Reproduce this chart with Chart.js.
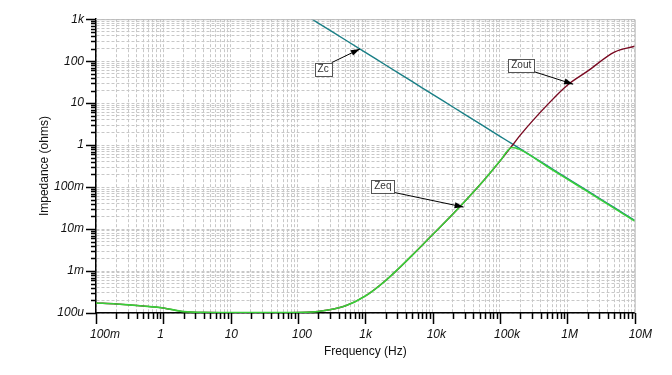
<!DOCTYPE html>
<html>
<head>
<meta charset="utf-8">
<title>Impedance vs Frequency</title>
<script src="https://cdn.jsdelivr.net/npm/chart.js@4.4.1/dist/chart.umd.min.js"></script>
<style>
  html, body { margin: 0; padding: 0; background: #fff; }
  #wrap { width: 672px; height: 375px; }
</style>
</head>
<body>
<div id="wrap"><canvas id="chart" width="672" height="375"></canvas></div>
<script>
// frequency points (Hz)
const freqs = [0.1, 0.2, 0.5, 1, 2, 5, 10, 20, 50, 100, 200, 500,
               1e3, 2e3, 5e3, 1e4, 2e4, 5e4, 1e5, 1.5e5, 2e5, 5e5, 1e6, 2e6, 5e6, 1e7];

// impedances (ohms)
const zc   = [1.62e6, 8.1e5, 3.24e5, 1.62e5, 8.1e4, 3.24e4, 1.62e4, 8100, 3240, 1620, 810, 324,
              162, 81, 32.4, 16.2, 8.1, 3.24, 1.62, 1.08, 0.81, 0.324, 0.162, 0.081, 0.0324, 0.0162];
const zeq  = [1.73e-4, 1.64e-4, 1.47e-4, 1.32e-4, 1.08e-4, 1.03e-4, 1.02e-4, 1.02e-4, 1.02e-4, 1.03e-4, 1.09e-4, 1.47e-4,
              2.54e-4, 5.94e-4, 2.4e-3, 7.4e-3, 2.28e-2, 0.112, 0.416, 0.88, 0.78, 0.31, 0.155, 0.078, 0.031, 0.0155];
const zout = [1.73e-4, 1.64e-4, 1.47e-4, 1.32e-4, 1.08e-4, 1.03e-4, 1.02e-4, 1.02e-4, 1.02e-4, 1.03e-4, 1.09e-4, 1.47e-4,
              2.54e-4, 5.94e-4, 2.4e-3, 7.4e-3, 2.28e-2, 0.112, 0.416, 0.95, 1.73, 8.97, 26.8, 57.8, 164, 227];

// axis decades and their labels
const xDecades = [0.1, 1, 10, 100, 1e3, 1e4, 1e5, 1e6, 1e7];
const xTickLabels = ['100m', '1', '10', '100', '1k', '10k', '100k', '1M', '10M'];
const yDecades = [1e-4, 1e-3, 1e-2, 0.1, 1, 10, 100, 1e3];
const yTickLabels = ['100u', '1m', '10m', '100m', '1', '10', '100', '1k'];

// callout labels: box centre and arrow tip, in data units
const callouts = [
  { text: 'Zc',   box: [236, 64.6],    tip: [830, 195] },
  { text: 'Zout', box: [2.07e5, 80],   tip: [1.22e6, 28.3] },
  { text: 'Zeq',  box: [1820, 0.106],  tip: [2.88e4, 0.0334] }
];

const FONT = "'Liberation Sans', Arial, sans-serif";

function decadeIndex(list, v) {
  return list.findIndex(d => Math.abs(d - v) / d < 1e-9);
}

function fullTicks(list) {
  const ticks = [];
  list.forEach((d, i) => {
    for (let k = 1; k <= 9; k++) {
      if (i === list.length - 1 && k > 1) break;
      ticks.push({ value: d * k });
    }
  });
  return ticks;
}

function series(values) {
  return freqs.map((f, i) => ({ x: f, y: values[i] }));
}

// ticks, frame and callouts drawn on top
const decorations = {
  id: 'decorations',
  afterDraw(chart) {
    const { ctx, chartArea: a, scales: { x, y } } = chart;
    ctx.save();

    // light frame on top and right
    ctx.strokeStyle = '#b8b8b8';
    ctx.lineWidth = 1;
    ctx.beginPath();
    ctx.moveTo(a.left, a.top + 0.5);
    ctx.lineTo(a.right + 0.5, a.top + 0.5);
    ctx.lineTo(a.right + 0.5, a.bottom);
    ctx.stroke();

    // tick marks
    ctx.strokeStyle = '#000';
    ctx.lineWidth = 1.5;
    ctx.beginPath();
    x.ticks.forEach(t => {
      const px = Math.round(x.getPixelForValue(t.value)) + 0.5;
      const len = decadeIndex(xDecades, t.value) >= 0 ? 11 : 6;
      ctx.moveTo(px, a.bottom);
      ctx.lineTo(px, a.bottom + len);
    });
    y.ticks.forEach(t => {
      const py = Math.round(y.getPixelForValue(t.value)) + 0.5;
      const len = decadeIndex(yDecades, t.value) >= 0 ? 10 : 5;
      ctx.moveTo(a.left, py);
      ctx.lineTo(a.left - len, py);
    });
    ctx.stroke();

    // callouts
    ctx.font = '10px ' + FONT;
    ctx.textAlign = 'center';
    ctx.textBaseline = 'middle';
    callouts.forEach(c => {
      const cx = x.getPixelForValue(c.box[0]);
      const cy = y.getPixelForValue(c.box[1]);
      const tx = x.getPixelForValue(c.tip[0]);
      const ty = y.getPixelForValue(c.tip[1]);
      const w = ctx.measureText(c.text).width + 6;
      const h = 13;
      const sx = cx + w / 2;
      const sy = ty > cy ? cy + h / 2 : cy - h / 2;

      ctx.strokeStyle = '#000';
      ctx.lineWidth = 1;
      ctx.beginPath();
      ctx.moveTo(sx, sy);
      ctx.lineTo(tx, ty);
      ctx.stroke();

      const ang = Math.atan2(ty - sy, tx - sx);
      ctx.fillStyle = '#000';
      ctx.beginPath();
      ctx.moveTo(tx, ty);
      ctx.lineTo(tx - 9 * Math.cos(ang) + 3 * Math.sin(ang), ty - 9 * Math.sin(ang) - 3 * Math.cos(ang));
      ctx.lineTo(tx - 9 * Math.cos(ang) - 3 * Math.sin(ang), ty - 9 * Math.sin(ang) + 3 * Math.cos(ang));
      ctx.closePath();
      ctx.fill();

      ctx.fillStyle = '#fff';
      ctx.fillRect(cx - w / 2, cy - h / 2, w, h);
      ctx.strokeStyle = '#555';
      ctx.strokeRect(Math.round(cx - w / 2) + 0.5, Math.round(cy - h / 2) + 0.5, Math.round(w), h);
      ctx.fillStyle = '#333';
      ctx.fillText(c.text, cx, cy + 0.5);
    });

    ctx.restore();
  }
};

const gridStyle = {
  color: '#c8c8c8',
  lineWidth: 1,
  drawTicks: false
};

new Chart(document.getElementById('chart'), {
  type: 'line',
  data: {
    datasets: [
      { label: 'Zeq',  data: series(zeq),  borderColor: '#38d038', borderWidth: 1.6 },
      { label: 'Zout', data: series(zout), borderColor: '#7a0a22', borderWidth: 1.4 },
      { label: 'Zc',   data: series(zc),   borderColor: '#1a7f86', borderWidth: 1.4 }
    ]
  },
  options: {
    responsive: false,
    devicePixelRatio: 1,
    animation: false,
    elements: {
      point: { radius: 0 },
      line: { cubicInterpolationMode: 'monotone', fill: false }
    },
    layout: { padding: { top: 18, right: 35, left: 0, bottom: 0 } },
    plugins: {
      legend: { display: false },
      tooltip: { enabled: false }
    },
    scales: {
      x: {
        type: 'logarithmic',
        min: 0.1,
        max: 1e7,
        afterBuildTicks(scale) { scale.ticks = fullTicks(xDecades); },
        afterFit(scale) { scale.height = 62; },
        grid: gridStyle,
        border: { display: true, color: '#000', width: 1.5, dash: [3, 2] },
        ticks: {
          autoSkip: false,
          maxRotation: 0,
          minRotation: 0,
          align: 'start',
          labelOffset: -6,
          padding: 14,
          color: '#111',
          font: { family: FONT, size: 12, style: 'italic' },
          callback(value) {
            const i = decadeIndex(xDecades, value);
            return i >= 0 ? xTickLabels[i] : '';
          }
        },
        title: {
          display: true,
          text: 'Frequency (Hz)',
          color: '#111',
          font: { family: FONT, size: 12 },
          padding: { top: 0, bottom: 16 }
        }
      },
      y: {
        type: 'logarithmic',
        min: 1e-4,
        max: 1e3,
        afterBuildTicks(scale) { scale.ticks = fullTicks(yDecades); },
        afterFit(scale) { scale.width = 96; },
        grid: gridStyle,
        border: { display: true, color: '#000', width: 1.5, dash: [3, 2] },
        ticks: {
          autoSkip: false,
          padding: 12,
          color: '#111',
          font: { family: FONT, size: 12, style: 'italic' },
          callback(value) {
            const i = decadeIndex(yDecades, value);
            return i >= 0 ? yTickLabels[i] : '';
          }
        },
        title: {
          display: true,
          text: 'Impedance (ohms)',
          color: '#111',
          font: { family: FONT, size: 12 },
          padding: { top: 37, bottom: 0 }
        }
      }
    }
  },
  plugins: [decorations]
});
</script>
</body>
</html>
